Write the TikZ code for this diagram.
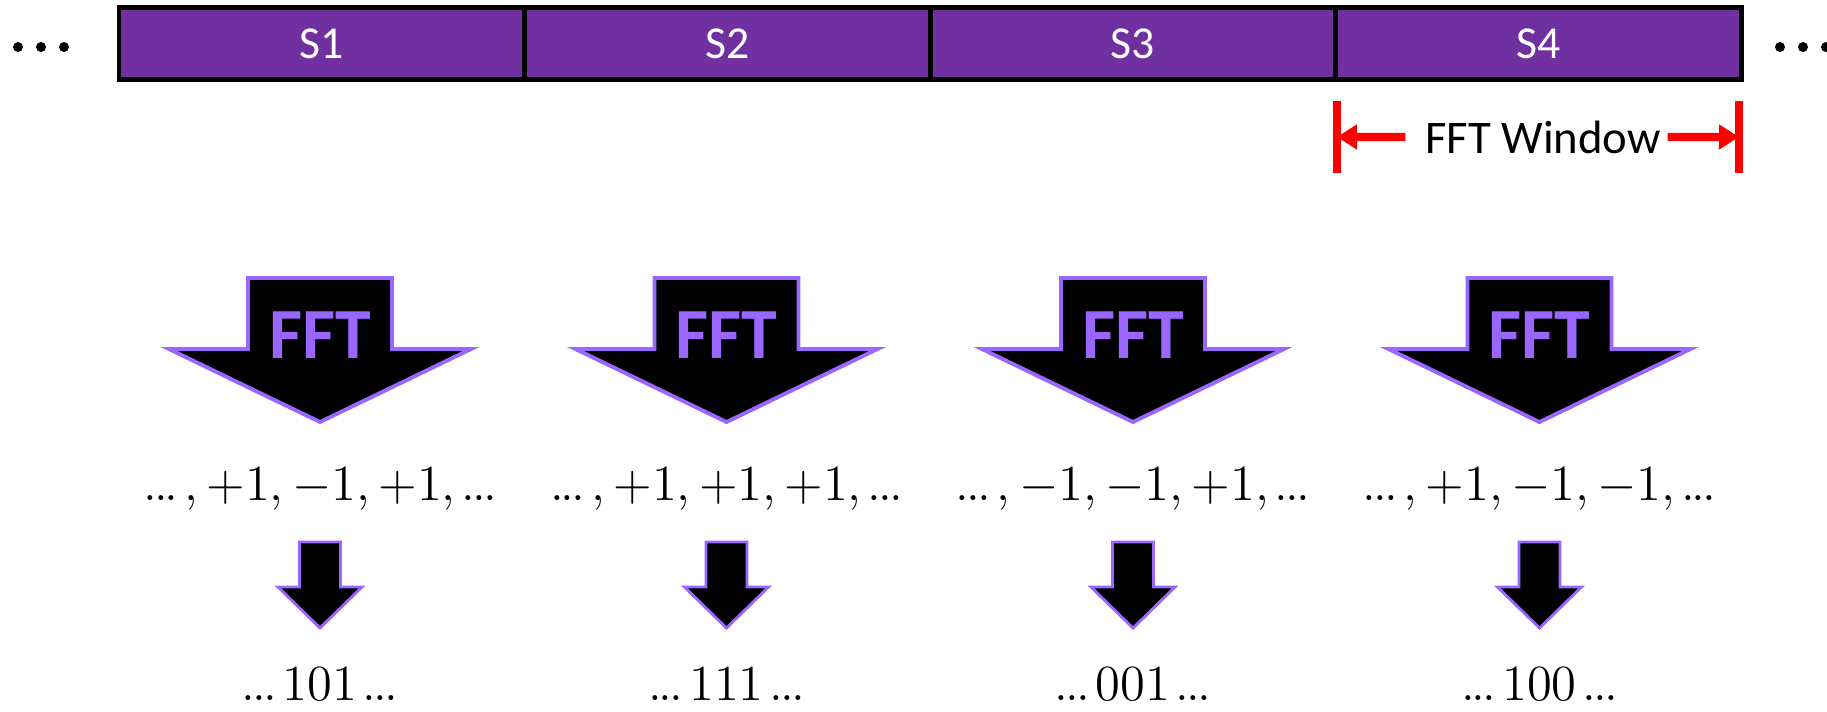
\documentclass[tikz,border=0pt]{standalone}
\usepackage{amsmath,amssymb}
\usepackage{fontspec}
\setsansfont{Carlito}
\usepackage{tikz}
\usetikzlibrary{arrows.meta,positioning}
\definecolor{slotpurple}{HTML}{7030A0}
\definecolor{fftpurple}{HTML}{9966FF}
\newcommand{\sdots}{\mathinner{\mkern-1mu.\mkern-1mu.\mkern-1mu.\mkern-1mu}}

\begin{document}
\begin{tikzpicture}[x=0.1mm, y=-0.1mm,
  slot/.style={draw=black, line width=1.42pt, fill=slotpurple, text=white,
    minimum width=40.56mm, minimum height=7.2mm, inner sep=0pt, outer sep=0pt,
    font=\sffamily\fontsize{13}{15}\selectfont},
  bigarrow/.style={fill=black, draw=fftpurple, line width=1.1pt},
  smallarrow/.style={fill=black, draw=fftpurple, line width=0.8pt},
  fftlabel/.style={text=fftpurple, inner sep=0pt,
    font=\sffamily\bfseries\fontsize{20.5}{24}\selectfont},
  vals/.style={anchor=base, inner sep=0pt, font=\fontsize{13.5}{16}\selectfont},
  window/.style={draw=red, line width=2pt},
  winarrow/.style={draw=red, line width=2.3pt, -{Triangle[length=2mm, width=2.4mm]}}]
\useasboundingbox (0,0) rectangle (1827,711);
\node[slot] (s1) at (321.8,43.5) {S1};
\node[slot, right=0pt of s1] (s2) {S2};
\node[slot, right=0pt of s2] (s3) {S3};
\node[slot, right=0pt of s3] (s4) {S4};
\foreach \x in {18,41,64,1780,1803,1826}
  \fill (\x,47) circle[radius=0.5mm];
\coordinate (wl) at (1337,137);
\coordinate (wr) at (1739,137);
\draw[window] (wl) ++(0,-36) -- ++(0,72);
\draw[window] (wr) ++(0,-36) -- ++(0,72);
\node[anchor=base, inner sep=0pt, font=\sffamily\fontsize{13.3}{15}\selectfont]
  (win) at (1543,153) {FFT Window};
\draw[winarrow] ([xshift=-1.9mm]win.west) -- (wl);
\draw[winarrow] ([xshift=0.6mm]win.east) -- (wr);
\foreach \cx/\seqtxt/\bittxt [count=\i] in {
    320/{$\sdots, +1, -1, +1, \sdots$}/{$\sdots 101 \sdots$},
    726.5/{$\sdots, +1, +1, +1, \sdots$}/{$\sdots 111 \sdots$},
    1133/{$\sdots, -1, -1, +1, \sdots$}/{$\sdots 001 \sdots$},
    1539.5/{$\sdots, +1, -1, -1, \sdots$}/{$\sdots 100 \sdots$}} {
  \draw[bigarrow] (\cx-72,278) -- (\cx+72,278) -- (\cx+72,349) -- (\cx+151,349)
    -- (\cx,422) -- (\cx-151,349) -- (\cx-72,349) -- cycle;
  \node[fftlabel] (fft\i) at (\cx,335) {FFT};
  \node[vals] (seq\i) at (\cx,500) {\seqtxt};
  \draw[smallarrow] (\cx-20.5,542) -- (\cx+20.5,542) -- (\cx+20.5,587) -- (\cx+42,587)
    -- (\cx,628) -- (\cx-42,587) -- (\cx-20.5,587) -- cycle;
  \node[vals] (bits\i) at (\cx,700) {\bittxt};
}
\end{tikzpicture}
\end{document}
